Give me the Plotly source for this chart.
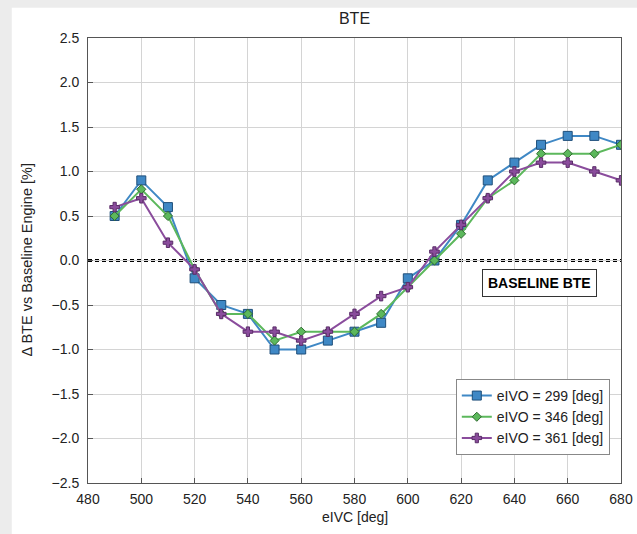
import plotly.graph_objects as go

eivc = [490, 500, 510, 520, 530, 540, 550, 560, 570, 580, 590, 600, 610, 620, 630, 640, 650, 660, 670, 680]
bte_299 = [0.5, 0.9, 0.6, -0.2, -0.5, -0.6, -1.0, -1.0, -0.9, -0.8, -0.7, -0.2, 0.0, 0.4, 0.9, 1.1, 1.3, 1.4, 1.4, 1.3]
bte_346 = [0.5, 0.8, 0.5, -0.1, -0.6, -0.6, -0.9, -0.8, -0.8, -0.8, -0.6, -0.3, 0.0, 0.3, 0.7, 0.9, 1.2, 1.2, 1.2, 1.3]
bte_361 = [0.6, 0.7, 0.2, -0.1, -0.6, -0.8, -0.8, -0.9, -0.8, -0.6, -0.4, -0.3, 0.1, 0.4, 0.7, 1.0, 1.1, 1.1, 1.0, 0.9]
series_names = ["eIVO = 299 [deg]", "eIVO = 346 [deg]", "eIVO = 361 [deg]"]
x_ticks = [480, 500, 520, 540, 560, 580, 600, 620, 640, 660, 680]
y_ticks = [-2.5, -2.0, -1.5, -1.0, -0.5, 0.0, 0.5, 1.0, 1.5, 2.0, 2.5]

FONT = "Liberation Sans, Arial, sans-serif"

fig = go.Figure()
fig.add_trace(go.Scatter(
    x=eivc, y=bte_299, name=series_names[0], mode="lines+markers",
    line=dict(color="#3f88c5", width=2),
    marker=dict(symbol="square", size=9, color="#3f88c5", line=dict(color="#1f4f7a", width=1)),
))
fig.add_trace(go.Scatter(
    x=eivc, y=bte_346, name=series_names[1], mode="lines+markers",
    line=dict(color="#5cb85c", width=2),
    marker=dict(symbol="diamond", size=7, color="#5cb85c", line=dict(color="#2e6b2e", width=1)),
))
fig.add_trace(go.Scatter(
    x=eivc, y=bte_361, name=series_names[2], mode="lines+markers",
    line=dict(color="#8a4c9c", width=2),
    marker=dict(symbol="cross", size=8, color="#8a4c9c", line=dict(color="#5a2d68", width=1)),
))

# baseline dashed line
fig.add_shape(type="line", xref="paper", yref="y", x0=0, x1=1, y0=0, y1=0,
              line=dict(color="black", width=3, dash="4px,3px"), layer="below")

# background "card" shadow edges
fig.add_shape(type="rect", xref="paper", yref="paper", x0=-0.2, x1=-0.143, y0=-0.2, y1=1.2,
              fillcolor="#ececec", line=dict(width=0), layer="below")
fig.add_shape(type="rect", xref="paper", yref="paper", x0=-0.2, x1=1.2, y0=1.068, y1=1.2,
              fillcolor="#ececec", line=dict(width=0), layer="below")

fig.add_annotation(x=649.6, y=-0.25, xref="x", yref="y", text="<b>BASELINE BTE</b>",
                   showarrow=False, font=dict(family=FONT, size=14, color="black"),
                   bgcolor="white", bordercolor="#333333", borderwidth=1, borderpad=5)

# axis titles
fig.add_annotation(x=0.5, y=-0.0764, xref="paper", yref="paper", text="eIVC [deg]",
                   showarrow=False, xanchor="center", yanchor="middle",
                   font=dict(family=FONT, size=14, color="#222222"))
fig.add_annotation(x=-0.1163, y=0.5, xref="paper", yref="paper",
                   text="Δ BTE vs Baseline Engine [%]", textangle=-90,
                   showarrow=False, xanchor="center", yanchor="middle",
                   font=dict(family=FONT, size=14.5, color="#222222"))

fig.update_layout(
    width=637, height=534,
    margin=dict(l=88, r=16, t=38, b=51, autoexpand=False),
    paper_bgcolor="white", plot_bgcolor="white",
    font=dict(family=FONT, size=14, color="#222222"),
    title=dict(text="BTE", x=0.5, xref="paper", y=1 - 18 / 534, yanchor="middle",
               font=dict(family=FONT, size=16, color="#222222")),
    showlegend=True,
    legend=dict(x=0.979, y=0.063, xanchor="right", yanchor="bottom",
                bgcolor="white", bordercolor="#888888", borderwidth=1,
                font=dict(family=FONT, size=14, color="#222222"),
                itemwidth=30, tracegroupgap=0),
    xaxis=dict(range=[480, 680], tickvals=x_ticks,
               automargin=False, ticklabelstandoff=3,
               showgrid=True, gridcolor="#d4d4d4", gridwidth=1, zeroline=False,
               showline=True, linecolor="#555555", mirror=True, ticks="inside",
               ticklen=5, tickcolor="#555555"),
    yaxis=dict(range=[-2.5, 2.5], tickvals=y_ticks, tickformat=".1f",
               automargin=False, ticklabelstandoff=5,
               showgrid=True, gridcolor="#d4d4d4", gridwidth=1, zeroline=False,
               showline=True, linecolor="#555555", mirror=True, ticks="inside",
               ticklen=5, tickcolor="#555555"),
)

fig.write_html("out.html", config={"displayModeBar": False},
               post_script="document.body.style.margin='0px';")
